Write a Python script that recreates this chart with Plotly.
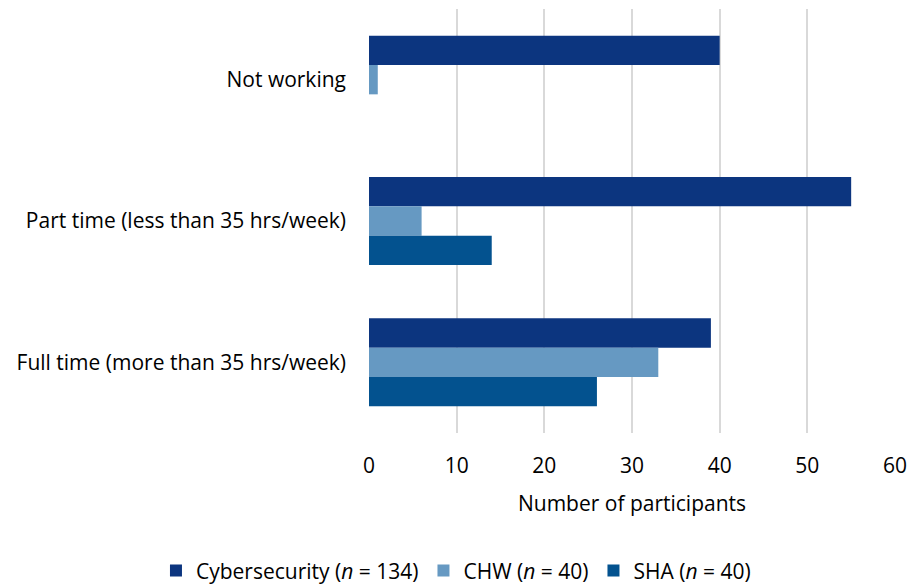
import plotly.graph_objects as go

# Employment status by participant group
categories = [
    "Not working",
    "Part time (less than 35 hrs/week)",
    "Full time (more than 35 hrs/week)",
]
series_names = [
    "Cybersecurity (<i>n</i> = 134)",
    "CHW (<i>n</i> = 40)",
    "SHA (<i>n</i> = 40)",
]
cyber_values = [40, 55, 39]
chw_values = [1, 6, 33]
sha_values = [0, 14, 26]
x_ticks = [0, 10, 20, 30, 40, 50, 60]

colors = ["#0c357f", "#6699c2", "#03528f"]
font_family = "Open Sans, Lato, sans-serif"
font_size = 21

fig = go.Figure()
for name, vals, col in zip(series_names, [cyber_values, chw_values, sha_values], colors):
    fig.add_trace(go.Bar(
        y=categories, x=vals, name=name, orientation="h",
        marker=dict(color=col, line=dict(width=0)),
    ))

fig.update_layout(
    width=910, height=588,
    margin=dict(l=369, r=15, t=9, b=155, autoexpand=False),
    barmode="group", bargap=0.377, bargroupgap=0,
    plot_bgcolor="white", paper_bgcolor="white",
    font=dict(family=font_family, size=font_size, color="#000000"),
    legend=dict(
        orientation="h", x=-0.405, xanchor="left", y=-0.325, yanchor="middle",
        font=dict(size=font_size), itemwidth=30, traceorder="normal",
        tracegroupgap=0,
    ),
    xaxis=dict(
        range=[0, 60], tickvals=x_ticks, showgrid=True, gridcolor="#d9d9d9",
        gridwidth=2, zeroline=False, showline=False, ticks="", automargin=False,
        ticklabelstandoff=18,
        title=dict(text="Number of participants", font=dict(size=font_size), standoff=18),
    ),
    yaxis=dict(
        autorange="reversed", showgrid=False, zeroline=False, showline=False,
        ticks="", ticklabelstandoff=22, automargin=False,
    ),
)

fig.write_html("out.html")
